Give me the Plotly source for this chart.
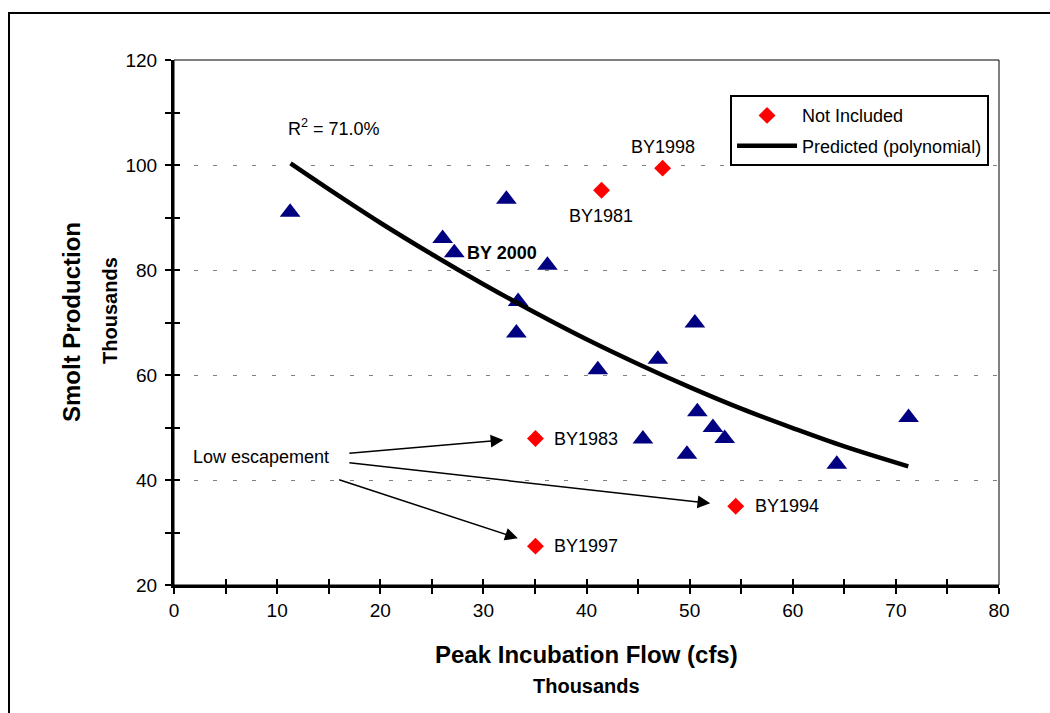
import plotly.graph_objects as go

# ---- data ----
flow_included = [11.26, 26.05, 27.18, 32.23, 36.21, 33.37, 33.20, 41.10, 46.92,
                 50.51, 50.75, 52.26, 53.40, 45.47, 49.74, 64.27, 71.23]
smolt_included = [91.0, 86.0, 83.3, 93.5, 80.9, 74.0, 68.0, 61.0, 63.0,
                  69.9, 53.0, 50.0, 47.9, 47.8, 44.9, 43.0, 51.9]

flow_excluded = [41.46, 47.38, 35.05, 54.47, 35.05]
smolt_excluded = [95.2, 99.4, 47.9, 35.0, 27.4]
excluded_labels = ["BY1981", "BY1998", "BY1983", "BY1994", "BY1997"]

curve_flow = [11.3, 15, 20, 25, 30, 35, 40, 45, 50, 55, 60, 65, 71.2]
curve_smolt = [100.3, 95.4, 89.0, 83.0, 77.3, 71.9, 66.8, 62.1, 57.7, 53.6, 49.9, 46.4, 42.6]

x_ticks = [0, 10, 20, 30, 40, 50, 60, 70, 80]
y_ticks = [20, 40, 60, 80, 100, 120]

FONT = "Arial, 'Liberation Sans', sans-serif"

fig = go.Figure()

fig.add_trace(go.Scatter(
    x=flow_included, y=smolt_included, mode="markers",
    marker=dict(symbol="triangle-up", size=18, color="#000080"),
    showlegend=False, hoverinfo="skip"))

fig.add_trace(go.Scatter(
    x=flow_excluded, y=smolt_excluded, mode="markers", name="Not Included",
    marker=dict(symbol="diamond", size=13, color="#FF0000"),
    legendgroup="a", hoverinfo="skip"))

fig.add_trace(go.Scatter(
    x=curve_flow, y=curve_smolt, mode="lines", name="Predicted (polynomial)",
    line=dict(color="black", width=4.5, shape="spline"),
    legendgroup="b", hoverinfo="skip"))

# dummy trace to materialise overlay axes (inside half of crossing ticks)
fig.add_trace(go.Scatter(x=[0], y=[20], xaxis="x2", yaxis="y2", mode="markers",
                         marker=dict(opacity=0), showlegend=False, hoverinfo="skip"))

tickfont = dict(family=FONT, size=19, color="black")

fig.update_layout(
    width=1050, height=713,
    margin=dict(l=174, r=51, t=60, b=128),
    paper_bgcolor="white", plot_bgcolor="white",
    font=dict(family=FONT, size=18, color="black"),
    xaxis=dict(range=[0, 80], tickvals=x_ticks, ticks="outside", ticklen=6, tickwidth=2,
               tickcolor="black", showline=True, linewidth=3, linecolor="black",
               showgrid=False, zeroline=False, tickfont=tickfont,
               minor=dict(dtick=5, ticks="outside", ticklen=6, tickwidth=2, tickcolor="black")),
    yaxis=dict(range=[20, 120], tickvals=y_ticks, ticks="outside", ticklen=6, tickwidth=2,
               tickcolor="black", showline=True, linewidth=3, linecolor="black",
               showgrid=True, gridcolor="#808080", gridwidth=1, griddash="4px,15.5px",
               zeroline=False, tickfont=tickfont, ticklabelstandoff=4,
               minor=dict(dtick=10, ticks="outside", ticklen=6, tickwidth=2, tickcolor="black")),
    xaxis2=dict(range=[0, 80], overlaying="x", anchor="y", side="bottom",
                tickvals=x_ticks, ticks="inside", ticklen=6, tickwidth=2, tickcolor="black",
                showticklabels=False, showline=False, showgrid=False, zeroline=False,
                minor=dict(dtick=5, ticks="inside", ticklen=6, tickwidth=2, tickcolor="black")),
    yaxis2=dict(range=[20, 120], overlaying="y", anchor="x", side="left",
                tickvals=y_ticks, ticks="inside", ticklen=6, tickwidth=2, tickcolor="black",
                showticklabels=False, showline=False, showgrid=False, zeroline=False,
                minor=dict(dtick=10, ticks="inside", ticklen=6, tickwidth=2, tickcolor="black")),
    legend=dict(x=0.674, y=0.933, xanchor="left", yanchor="top",
                bordercolor="black", borderwidth=2, bgcolor="white",
                font=dict(family=FONT, size=18, color="black"),
                traceorder="grouped", tracegroupgap=4, itemwidth=60),
    showlegend=True,
)

# plot-area frame (thin) and outer chart frame
fig.add_shape(type="rect", xref="paper", yref="paper", x0=0, y0=0, x1=1, y1=1,
              line=dict(color="black", width=1), layer="below")
fig.add_shape(type="rect", xref="paper", yref="paper", x0=-0.2, y0=-0.3, x1=1.08, y1=1.0895,
              line=dict(color="black", width=2), layer="below")

ann = []
# axis titles
ann.append(dict(text="<b>Smolt Production</b>", xref="paper", yref="paper", x=-0.1236, y=0.501,
                xanchor="center", yanchor="middle",
                textangle=-90, showarrow=False, font=dict(size=24)))
ann.append(dict(text="<b>Thousands</b>", xref="paper", yref="paper", x=-0.0776, y=0.524,
                xanchor="center", yanchor="middle",
                textangle=-90, showarrow=False, font=dict(size=20)))
ann.append(dict(text="<b>Peak Incubation Flow (cfs)</b>", xref="paper", yref="paper", x=0.5, y=-0.1333,
                xanchor="center", yanchor="middle", showarrow=False, font=dict(size=24)))
ann.append(dict(text="<b>Thousands</b>", xref="paper", yref="paper", x=0.5, y=-0.1924,
                xanchor="center", yanchor="middle", showarrow=False, font=dict(size=20)))

# text labels
ann.append(dict(text="R<sup>2</sup> = 71.0%", x=10.9, y=107.2, xanchor="left", showarrow=False))
ann.append(dict(text="<b>BY 2000</b>", x=28.2, y=83.2, xanchor="left", showarrow=False))
ann.append(dict(text=excluded_labels[1], x=47.4, y=103.4, xanchor="center", showarrow=False))
ann.append(dict(text=excluded_labels[0], x=41.4, y=90.3, xanchor="center", showarrow=False))
ann.append(dict(text=excluded_labels[2], x=36.7, y=47.9, xanchor="left", showarrow=False))
ann.append(dict(text=excluded_labels[3], x=56.1, y=35.0, xanchor="left", showarrow=False))
ann.append(dict(text=excluded_labels[4], x=36.7, y=27.4, xanchor="left", showarrow=False))
ann.append(dict(text="Low escapement", x=1.6, y=44.4, xanchor="left", showarrow=False,
                font=dict(size=18)))

# arrows
for (hx, hy, tx, ty) in [(31.94, 47.62, 16.86, 45.09),
                         (52.0, 35.56, 16.86, 43.30),
                         (33.34, 28.9, 15.87, 40.13)]:
    ann.append(dict(text="", x=hx, y=hy, ax=tx, ay=ty, xref="x", yref="y",
                    axref="x", ayref="y", showarrow=True, arrowhead=2,
                    arrowsize=1.7, arrowwidth=1.5, arrowcolor="black"))

fig.update_layout(annotations=ann)

fig.write_html("out.html")
